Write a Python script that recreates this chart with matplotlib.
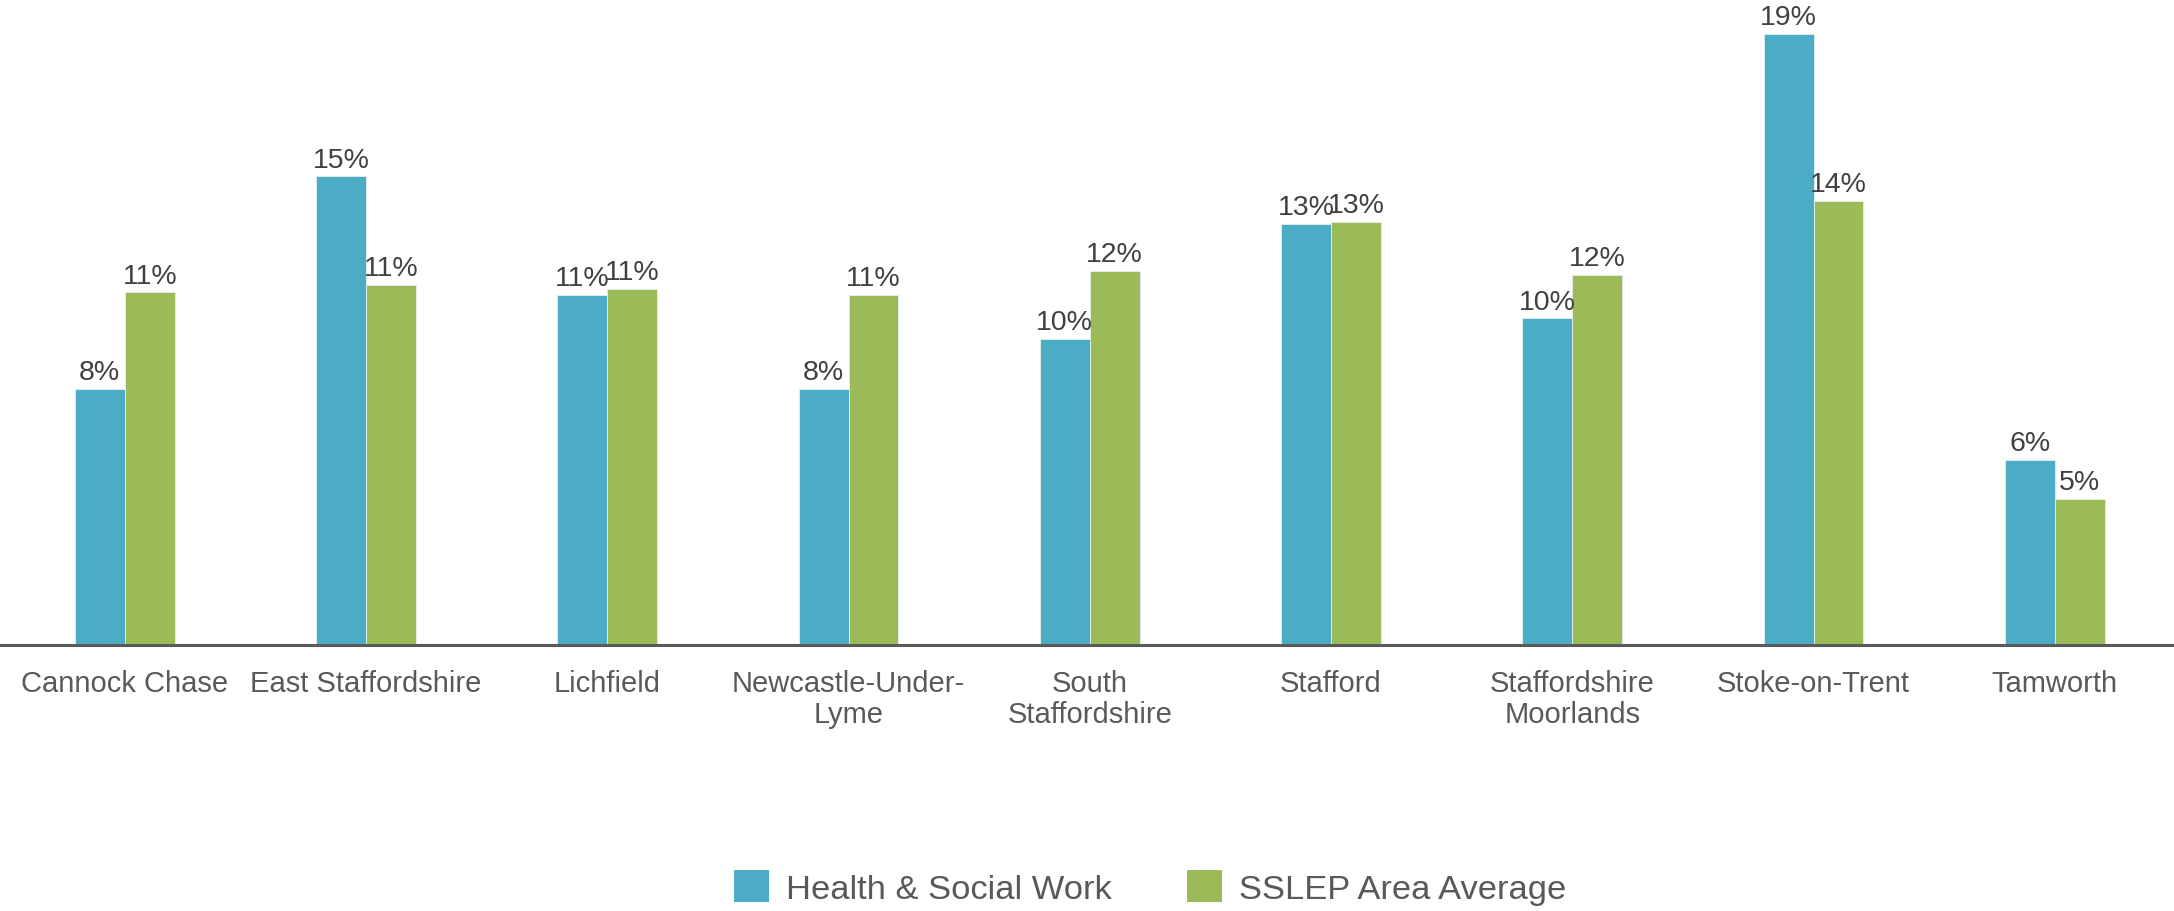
import matplotlib.pyplot as plt
from matplotlib.patches import Patch
import numpy as np

plt.rcParams["font.family"] = ["Liberation Sans", "DejaVu Sans"]

DISTRICTS = [
    "Cannock Chase",
    "East Staffordshire",
    "Lichfield",
    "Newcastle-Under-\nLyme",
    "South\nStaffordshire",
    "Stafford",
    "Staffordshire\nMoorlands",
    "Stoke-on-Trent",
    "Tamworth",
]

# share of employment, percent
HEALTH_SOCIAL = [7.96, 14.58, 10.88, 7.96, 9.52, 13.10, 10.16, 19.00, 5.75]
SSLEP_AVERAGE = [10.97, 11.19, 11.09, 10.90, 11.64, 13.17, 11.52, 13.83, 4.55]

SERIES_NAMES = ["Health & Social Work", "SSLEP Area Average"]
COLORS = ["#4BACC6", "#9BBB59"]

LABEL_COLOR = "#404040"
TICK_COLOR = "#595959"


def main() -> None:
    fig = plt.figure(figsize=(21.74, 9.12), dpi=100)
    ax = fig.add_axes([0.0, 0.2917, 1.0, 0.7083])

    x = np.arange(len(DISTRICTS))
    width = 0.207

    for offset, values, color in [(-width / 2, HEALTH_SOCIAL, COLORS[0]), (width / 2, SSLEP_AVERAGE, COLORS[1])]:
        bars = ax.bar(x + offset, values, width=width, color=color, edgecolor="#e6f0f2", linewidth=0.6, zorder=2)
        for bar, value in zip(bars, values):
            ax.text(
                bar.get_x() + bar.get_width() / 2,
                bar.get_height() + 0.12,
                f"{value:.0f}%",
                ha="center",
                va="bottom",
                fontsize=20.5,
                color=LABEL_COLOR,
                clip_on=False,
            )

    ax.set_xlim(-0.517, 8.494)
    ax.set_ylim(0, 20.1)

    ax.set_xticks(x)
    ax.set_xticklabels(DISTRICTS, fontsize=21, color=TICK_COLOR, linespacing=1.15)
    ax.tick_params(axis="x", length=0, pad=17)
    ax.set_yticks([])

    for side in ["top", "right", "left"]:
        ax.spines[side].set_visible(False)
    ax.spines["bottom"].set_color(TICK_COLOR)
    ax.spines["bottom"].set_linewidth(2.2)
    ax.spines["bottom"].set_zorder(3)

    handles = [Patch(facecolor=c, edgecolor="none") for c in COLORS]
    fig.legend(
        handles,
        SERIES_NAMES,
        loc="center",
        bbox_to_anchor=(0.529, 0.026),
        ncol=2,
        frameon=False,
        fontsize=24.8,
        labelcolor=TICK_COLOR,
        handlelength=1.02,
        handleheight=1.05,
        handletextpad=0.48,
        columnspacing=2.2,
    )

    fig.savefig("out.png", dpi=100)
    plt.close(fig)


if __name__ == "__main__":
    main()
